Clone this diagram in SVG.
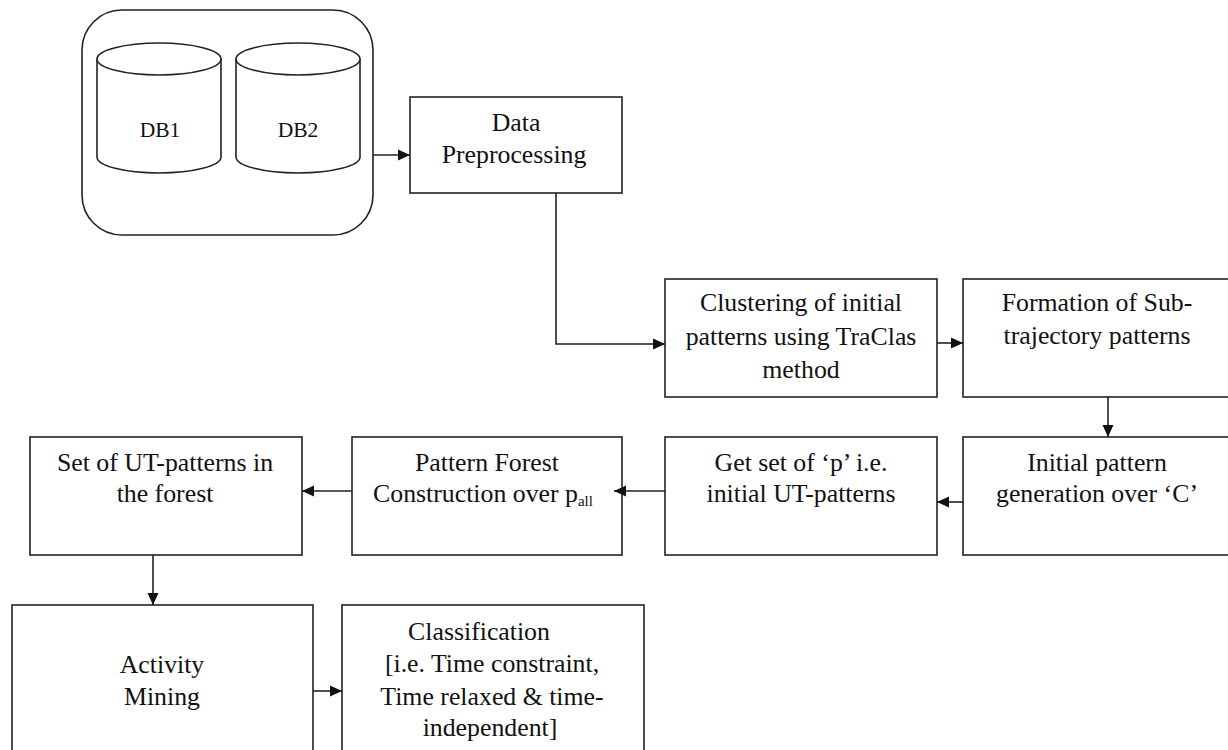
<svg xmlns="http://www.w3.org/2000/svg" width="1228" height="750" viewBox="0 0 1228 750">
<style>
.box{fill:#fff;stroke:#222;stroke-width:1.6}
.t{font-family:"Liberation Serif","Times New Roman",serif;font-size:25.8px;fill:#111;text-anchor:middle}
.db{font-family:"Liberation Serif","Times New Roman",serif;font-size:21.5px;fill:#111;text-anchor:middle}
.c{fill:none;stroke:#222;stroke-width:1.6}
</style>
<defs>
<marker id="ah" markerWidth="12" markerHeight="12" refX="12" refY="6" orient="auto" markerUnits="userSpaceOnUse">
<path d="M0,0.5 L12,6 L0,11.5 Z" fill="#111"/>
</marker>
</defs>
<rect width="1228" height="750" fill="#fff"/>
<g id="sources">
<rect class="box" x="82" y="10" width="291" height="225" rx="40" ry="40"/>
<g id="db1">
<path class="box" d="M97,59 V157 A62,16 0 0 0 221,157 V59"/>
<ellipse class="box" cx="159" cy="59" rx="62" ry="16"/>
<text class="db" x="160" y="137">DB1</text>
</g>
<g id="db2">
<path class="box" d="M236,59 V157 A62,16 0 0 0 360,157 V59"/>
<ellipse class="box" cx="298" cy="59" rx="62" ry="16"/>
<text class="db" x="298" y="137">DB2</text>
</g>
</g>
<g id="preprocessing">
<rect class="box" x="410" y="97" width="212" height="96"/>
<text class="t" x="516" y="131">Data</text>
<text class="t" x="514" y="163">Preprocessing</text>
</g>
<g id="clustering">
<rect class="box" x="665" y="279" width="272" height="118"/>
<text class="t" x="801" y="311">Clustering of initial</text>
<text class="t" x="801" y="345">patterns using TraClas</text>
<text class="t" x="801" y="378">method</text>
</g>
<g id="formation">
<rect class="box" x="963" y="279" width="275" height="118"/>
<text class="t" x="1097" y="311">Formation of Sub-</text>
<text class="t" x="1097" y="344">trajectory patterns</text>
</g>
<g id="initial">
<rect class="box" x="963" y="437" width="275" height="118"/>
<text class="t" x="1097" y="471">Initial pattern</text>
<text class="t" x="1097" y="502">generation over ‘C’</text>
</g>
<g id="getset">
<rect class="box" x="665" y="437" width="272" height="118"/>
<text class="t" x="801" y="471">Get set of ‘p’ i.e.</text>
<text class="t" x="801" y="502">initial UT-patterns</text>
</g>
<g id="forest">
<rect class="box" x="352" y="437" width="270" height="118"/>
<text class="t" x="487" y="471">Pattern Forest</text>
<text class="t" x="483" y="502">Construction over p<tspan font-size="15" dy="4">all</tspan></text>
</g>
<g id="utset">
<rect class="box" x="30" y="437" width="272" height="118"/>
<text class="t" x="165" y="471">Set of UT-patterns in</text>
<text class="t" x="165" y="502">the forest</text>
</g>
<g id="activity">
<rect class="box" x="12" y="605" width="301" height="160"/>
<text class="t" x="162" y="673">Activity</text>
<text class="t" x="162" y="705">Mining</text>
</g>
<g id="classification">
<rect class="box" x="342" y="605" width="302" height="160"/>
<text class="t" x="479" y="640">Classification</text>
<text class="t" x="492" y="672">[i.e. Time constraint,</text>
<text class="t" x="492" y="705">Time relaxed &amp; time-</text>
<text class="t" x="490" y="736">independent]</text>
</g>
<g id="connectors">
<path class="c" d="M373,155 H410" marker-end="url(#ah)"/>
<path class="c" d="M556,193 V344 H665" marker-end="url(#ah)"/>
<path class="c" d="M937,343 H963" marker-end="url(#ah)"/>
<path class="c" d="M1108,397 V437" marker-end="url(#ah)"/>
<path class="c" d="M963,502 H937" marker-end="url(#ah)"/>
<path class="c" d="M665,491 H614" marker-end="url(#ah)"/>
<path class="c" d="M352,491 H302" marker-end="url(#ah)"/>
<path class="c" d="M153,555 V605" marker-end="url(#ah)"/>
<path class="c" d="M313,691 H342" marker-end="url(#ah)"/>
</g>
</svg>
